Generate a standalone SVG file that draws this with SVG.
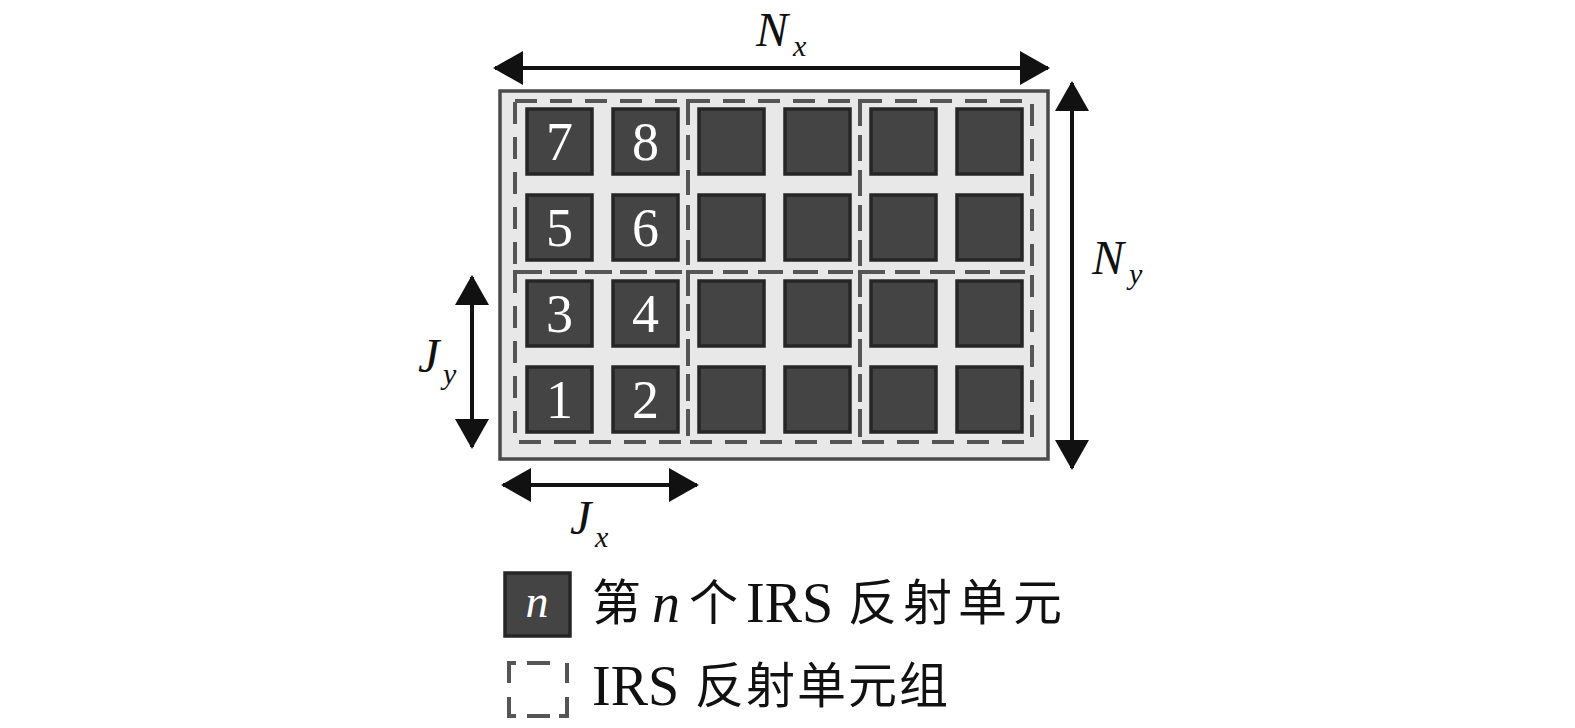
<svg xmlns="http://www.w3.org/2000/svg" width="1575" height="728" viewBox="0 0 1575 728">
<style>
.cell{fill:#444444;stroke:#262626;stroke-width:3.5}
.num{font-family:"Liberation Serif",serif;font-size:54px;fill:#ffffff;text-anchor:middle}
.grp{fill:none;stroke:#555555;stroke-width:4;stroke-dasharray:22 13}
.arr{stroke:#111111;stroke-width:4;fill:none;marker-start:url(#ah);marker-end:url(#ah)}
.lbl{font-family:"Liberation Serif",serif;font-style:italic;fill:#111111}
.lat{font-family:"Liberation Serif",serif;font-size:56px;fill:#111111}
.cjk{font-family:"Liberation Serif","Noto Sans CJK SC",serif;font-size:49px;fill:#111111;letter-spacing:3px}
</style>
<defs>
<marker id="ah" markerUnits="userSpaceOnUse" markerWidth="30" markerHeight="34" viewBox="0 0 30 34" refX="28" refY="17" orient="auto-start-reverse">
<path d="M0,0 L30,17 L0,34 Z" fill="#111111"/>
</marker>
</defs>
<rect width="1575" height="728" fill="#ffffff"/>
<g id="board">
<rect x="500" y="91" width="548" height="368" fill="#e8e8e8" stroke="#4a4a4a" stroke-width="3.5"/>
</g>
<g id="cells">
<rect class="cell" x="527" y="109" width="65" height="65"/>
<rect class="cell" x="613" y="109" width="65" height="65"/>
<rect class="cell" x="699" y="109" width="65" height="65"/>
<rect class="cell" x="785" y="109" width="65" height="65"/>
<rect class="cell" x="871" y="109" width="65" height="65"/>
<rect class="cell" x="957" y="109" width="65" height="65"/>
<rect class="cell" x="527" y="195" width="65" height="65"/>
<rect class="cell" x="613" y="195" width="65" height="65"/>
<rect class="cell" x="699" y="195" width="65" height="65"/>
<rect class="cell" x="785" y="195" width="65" height="65"/>
<rect class="cell" x="871" y="195" width="65" height="65"/>
<rect class="cell" x="957" y="195" width="65" height="65"/>
<rect class="cell" x="527" y="281" width="65" height="65"/>
<rect class="cell" x="613" y="281" width="65" height="65"/>
<rect class="cell" x="699" y="281" width="65" height="65"/>
<rect class="cell" x="785" y="281" width="65" height="65"/>
<rect class="cell" x="871" y="281" width="65" height="65"/>
<rect class="cell" x="957" y="281" width="65" height="65"/>
<rect class="cell" x="527" y="367" width="65" height="65"/>
<rect class="cell" x="613" y="367" width="65" height="65"/>
<rect class="cell" x="699" y="367" width="65" height="65"/>
<rect class="cell" x="785" y="367" width="65" height="65"/>
<rect class="cell" x="871" y="367" width="65" height="65"/>
<rect class="cell" x="957" y="367" width="65" height="65"/>
<text class="num" x="559.5" y="160">7</text>
<text class="num" x="645.5" y="160">8</text>
<text class="num" x="559.5" y="246">5</text>
<text class="num" x="645.5" y="246">6</text>
<text class="num" x="559.5" y="332">3</text>
<text class="num" x="645.5" y="332">4</text>
<text class="num" x="559.5" y="418">1</text>
<text class="num" x="645.5" y="418">2</text>
</g>
<g id="groups">
<rect class="grp" x="515" y="101" width="173" height="171"/>
<rect class="grp" x="688" y="101" width="172" height="171"/>
<rect class="grp" x="860" y="101" width="172" height="171"/>
<rect class="grp" x="515" y="272" width="173" height="170"/>
<rect class="grp" x="688" y="272" width="172" height="170"/>
<rect class="grp" x="860" y="272" width="172" height="170"/>
</g>
<g id="connectors">
<line class="arr" x1="495" y1="68" x2="1048" y2="68"/>
<line class="arr" x1="1072" y1="83" x2="1072" y2="468"/>
<line class="arr" x1="472" y1="277" x2="472" y2="447"/>
<line class="arr" x1="503" y1="485" x2="697" y2="485"/>
</g>
<g id="labels">
<text class="lbl" x="756" y="46" font-size="48">N</text>
<text class="lbl" x="793" y="56" font-size="30">x</text>
<text class="lbl" x="1092" y="274" font-size="48">N</text>
<text class="lbl" x="1129" y="284" font-size="30">y</text>
<text class="lbl" x="418" y="372" font-size="48">J</text>
<text class="lbl" x="443" y="384" font-size="30">y</text>
<text class="lbl" x="570" y="534" font-size="48">J</text>
<text class="lbl" x="595" y="547" font-size="30">x</text>
</g>
<g id="legend-cell">
<rect class="cell" x="505" y="573" width="65" height="63"/>
<text class="lbl" x="537" y="617" font-size="46" text-anchor="middle" style="fill:#ffffff">n</text>
<text class="cjk" x="592" y="620">第</text>
<text class="lat" x="652" y="622" font-style="italic">n</text>
<text class="cjk" x="689" y="620">个</text>
<text class="lat" x="746" y="622">IRS</text>
<text class="cjk" x="848" y="620" style="letter-spacing:6px">反射单元</text>
</g>
<g id="legend-group">
<path d="M516,663 L509,663 L509,683 M527,663 L550,663 M567,663 L567,683 M509,697 L509,716 L516,716 M527,716 L550,716 M559,716 L567,716 L567,697" fill="none" stroke="#555555" stroke-width="4"/>
<text class="lat" x="592" y="705">IRS</text>
<text class="cjk" x="695" y="703" style="letter-spacing:2px">反射单元组</text>
</g>
</svg>
